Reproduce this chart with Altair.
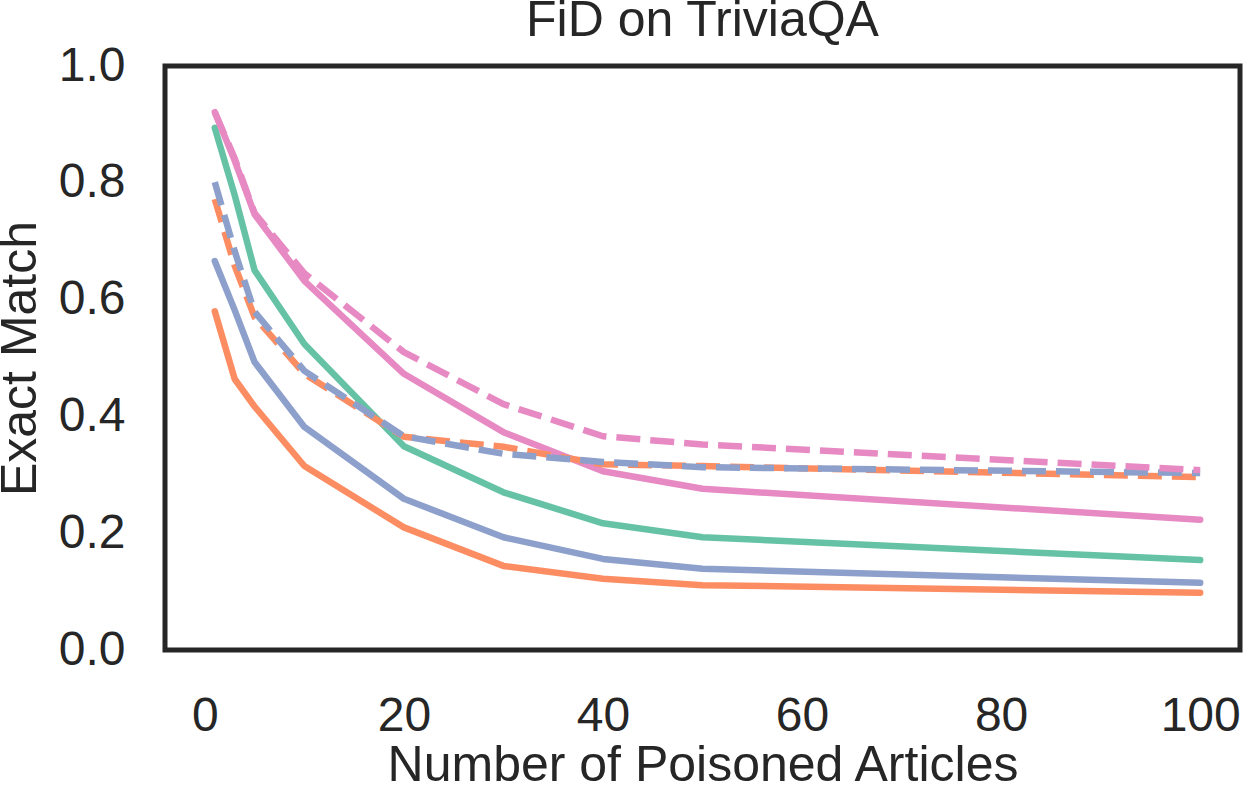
import altair as alt
import pandas as pd

x_vals = [1, 3, 5, 10, 20, 30, 40, 50, 100]

series_names = ["green_solid", "orange_solid", "blue_solid", "pink_solid",
                "orange_dashed", "blue_dashed", "pink_dashed"]
series_colors = ["#66c2a5", "#fc8d62", "#8da0cb", "#e78ac3",
                 "#fc8d62", "#8da0cb", "#e78ac3"]
series_dashed = [False, False, False, False, True, True, True]

green_solid = [0.894, 0.779, 0.650, 0.524, 0.349, 0.270, 0.217, 0.193, 0.154]
orange_solid = [0.580, 0.464, 0.417, 0.315, 0.210, 0.144, 0.122, 0.111, 0.098]
blue_solid = [0.666, 0.582, 0.493, 0.382, 0.259, 0.193, 0.156, 0.139, 0.115]
pink_solid = [0.921, 0.838, 0.746, 0.632, 0.473, 0.373, 0.306, 0.276, 0.223]
orange_dashed = [0.772, 0.658, 0.570, 0.473, 0.365, 0.348, 0.318, 0.315, 0.296]
blue_dashed = [0.801, 0.683, 0.579, 0.478, 0.366, 0.336, 0.322, 0.313, 0.303]
pink_dashed = [0.921, 0.842, 0.748, 0.645, 0.510, 0.421, 0.366, 0.352, 0.308]

values = [green_solid, orange_solid, blue_solid, pink_solid,
          orange_dashed, blue_dashed, pink_dashed]

FONT = "Liberation Sans"
TEXT = "#262626"

layers = []
for name, color, dashed, ys in zip(series_names, series_colors, series_dashed, values):
    df = pd.DataFrame({"x": x_vals, "y": ys})
    mark_kwargs = dict(color=color, strokeWidth=6.5, strokeCap="round" if not dashed else "butt",
                       strokeJoin="round", clip=True)
    if dashed:
        mark_kwargs["strokeDash"] = [24, 10]
    layer = alt.Chart(df).mark_line(**mark_kwargs).encode(
        x=alt.X("x:Q",
                scale=alt.Scale(domain=[-4.0, 104.0], nice=False, zero=False),
                axis=alt.Axis(values=[0, 20, 40, 60, 80, 100], title="Number of Poisoned Articles",
                              grid=False, ticks=False, domain=False, labelPadding=42,
                              labelFontSize=48, titleFontSize=50, titlePadding=0,
                              labelFont=FONT, titleFont=FONT, labelColor=TEXT,
                              titleColor=TEXT, titleFontWeight="normal")),
        y=alt.Y("y:Q",
                scale=alt.Scale(domain=[0, 1.0], nice=False),
                axis=alt.Axis(values=[0, 0.2, 0.4, 0.6, 0.8, 1.0], format=".1f",
                              title="Exact Match", grid=False, ticks=False, domain=False,
                              labelPadding=40, labelFontSize=48, titleFontSize=50,
                              titlePadding=13, labelFont=FONT, titleFont=FONT,
                              labelColor=TEXT, titleColor=TEXT, titleFontWeight="normal")),
    )
    layers.append(layer)

chart = alt.layer(*layers).properties(
    width=1075,
    height=584,
    title=alt.Title("FiD on TriviaQA", font=FONT, fontSize=50, fontWeight="normal",
                    color=TEXT, offset=-4, anchor="middle"),
    autosize=alt.AutoSizeParams(type="none"),
    padding={"left": 165, "top": 66, "right": 6, "bottom": 135},
).configure(
    background="white",
    view=alt.ViewConfig(stroke=TEXT, strokeWidth=5),
)

chart.save("out.html", embed_options={"renderer": "svg", "actions": False})
